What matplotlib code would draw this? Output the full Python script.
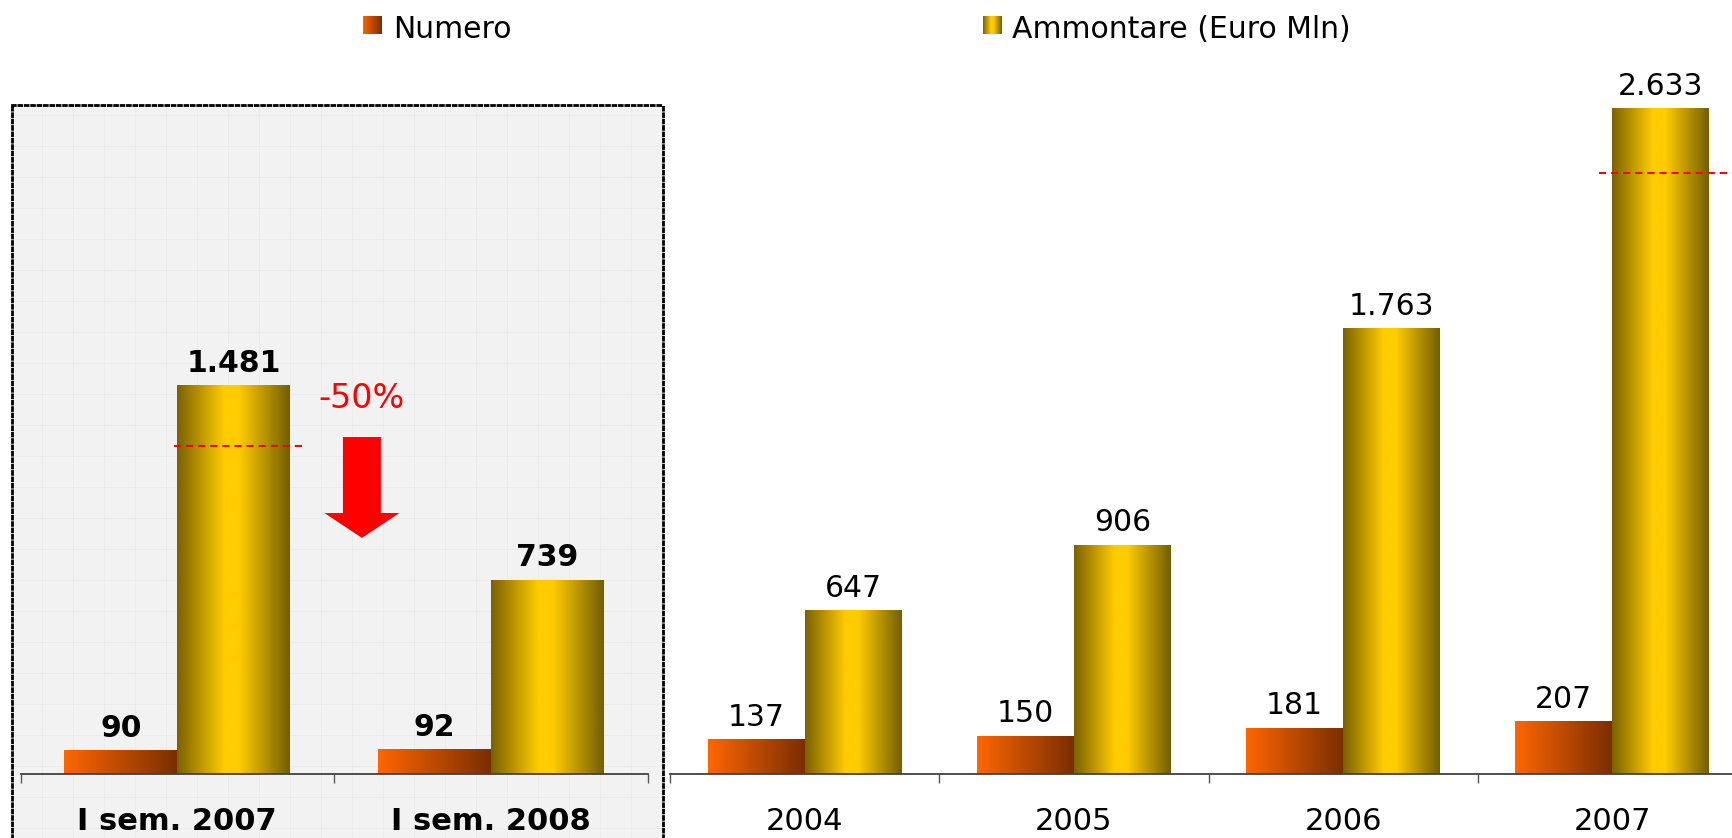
import numpy as np
import matplotlib
matplotlib.use('Agg')
import matplotlib.pyplot as plt
from matplotlib.colors import LinearSegmentedColormap
from matplotlib.patches import FancyArrow

# data
cat_sem = ['I sem. 2007', 'I sem. 2008']
numero_sem = [90, 92]
ammontare_sem = [1481, 739]

cat_anni = ['2004', '2005', '2006', '2007']
numero_anni = [137, 150, 181, 207]
ammontare_anni = [647, 906, 1763, 2633]

ref_sem = 1252    # red dashed line, left panel
ref_anni = 2379   # red dashed line, right panel
calo = '-50%'

W, H = 1732, 838
fig = plt.figure(figsize=(W / 100, H / 100), dpi=100)


def fx(px):
    return px / W


def fy(py):
    return 1 - py / H


orange = LinearSegmentedColormap.from_list('orange', ['#FF6600', '#7A2E00'])
gold = LinearSegmentedColormap.from_list(
    'gold', [(0, '#7A6200'), (0.42, '#FFCC00'), (0.55, '#FFCC00'), (1, '#735E00')])
grad = np.linspace(0, 1, 256).reshape(1, -1)


def fmt(v):
    return f'{v:,}'.replace(',', '.')


# grey dotted box behind the half-year panel
bg = fig.add_axes([fx(12), 0, fx(663) - fx(12), fy(105)], zorder=0)
bg.set_facecolor('#F2F2F2')
bg.set_xlim(0, 651)
bg.set_ylim(0, 733)
bg.set_xticks(np.arange(30, 651, 31))
bg.set_yticks(np.arange(10, 733, 31))
bg.tick_params(length=0, labelbottom=False, labelleft=False)
bg.grid(color='#EAEAEA', lw=0.6)
for s in ['left', 'right', 'top']:
    bg.spines[s].set_linestyle((0, (1, 1.3)))
    bg.spines[s].set_linewidth(2)
    bg.spines[s].set_color('black')
bg.spines['bottom'].set_visible(False)


def draw_panel(ax, cats, numero, ammontare, ymax, weight):
    x = np.arange(len(cats))
    w = 0.36
    b1 = ax.bar(x - w / 2, numero, w, color='none')
    b2 = ax.bar(x + w / 2, ammontare, w, color='none')
    for bars, cmap in ((b1, orange), (b2, gold)):
        for r in bars:
            x0 = r.get_x()
            ax.imshow(grad, cmap=cmap, extent=(x0, x0 + r.get_width(), 0, r.get_height()),
                      aspect='auto', interpolation='bilinear', zorder=2)
            ax.annotate(fmt(int(r.get_height())), (x0 + r.get_width() / 2, r.get_height()),
                        xytext=(0, 10), textcoords='offset points', ha='center',
                        va='baseline', fontsize=21.5, fontweight=weight)
    ax.set_xlim(-0.5, len(cats) - 0.5)
    ax.set_ylim(0, ymax)
    ax.set_xticks(x, cats, fontsize=22, fontweight=weight)
    ax.set_xticks(np.arange(len(cats) + 1) - 0.5, minor=True)
    ax.tick_params(axis='x', which='major', length=0, pad=24)
    ax.tick_params(axis='x', which='minor', length=6.5, width=1, color='#555555')
    ax.set_yticks([])
    for s in ['left', 'right', 'top']:
        ax.spines[s].set_visible(False)
    ax.spines['bottom'].set_color('#404040')
    ax.spines['bottom'].set_linewidth(1.3)
    ax.patch.set_visible(False)


axL = fig.add_axes([fx(20.5), fy(774), fx(647.5) - fx(20.5), fy(60) - fy(774)], zorder=1)
axR = fig.add_axes([fx(670), fy(774), fx(1747) - fx(670), fy(60) - fy(774)], zorder=1)

draw_panel(axL, cat_sem, numero_sem, ammontare_sem, 2725, 'bold')
draw_panel(axR, cat_anni, numero_anni, ammontare_anni, 2827, 'normal')

# reference lines
axL.hlines(ref_sem, -0.01, 0.40, colors='red', linestyles=(0, (3.4, 2.4)), lw=1.5, zorder=3)
axR.hlines(ref_anni, 2.95, 3.5, colors='red', linestyles=(0, (3.4, 2.4)), lw=1.5, zorder=3)

# -50% arrow
axL.add_patch(FancyArrow(0.589, 1286, 0, -385, width=0.121, head_width=0.239,
                         head_length=95, length_includes_head=True,
                         color='red', lw=0, zorder=3))
axL.text(0.587, 1397, calo, color='red', fontsize=24, ha='center', va='baseline')

# legend
for x0, x1, cmap, label in ((363, 393, orange, 'Numero'),
                            (983, 1012, gold, 'Ammontare (Euro Mln)')):
    m = fig.add_axes([fx(x0), fy(34), fx(18.5), fy(16) - fy(34)])
    m.imshow(grad, cmap=cmap, aspect='auto', interpolation='bilinear')
    m.axis('off')
    fig.text(fx(x1), fy(38), label, fontsize=21.5, ha='left', va='baseline')

fig.savefig('out.png', dpi=100)
